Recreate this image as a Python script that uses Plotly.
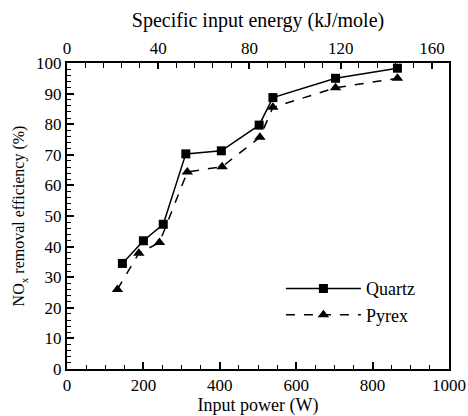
import plotly.graph_objects as go

quartz_power = [145, 200, 252, 311, 404, 503, 539, 703, 865]
quartz_eff = [34.5, 41.9, 47.3, 70.3, 71.3, 79.7, 88.7, 95.0, 98.3]
pyrex_power = [132, 188, 242, 315, 406, 505, 539, 703, 865]
pyrex_eff = [26.0, 37.8, 41.3, 64.4, 66.1, 75.7, 85.5, 91.9, 95.0]

FONT = "Liberation Serif"

def f(size):
    return dict(family=FONT, size=size, color="black")

fig = go.Figure()
fig.add_trace(go.Scatter(
    x=quartz_power, y=quartz_eff, name="Quartz", mode="lines+markers",
    line=dict(color="black", width=1.5),
    marker=dict(symbol="square", size=9, color="black"),
    cliponaxis=False))
fig.add_trace(go.Scatter(
    x=pyrex_power, y=pyrex_eff, name="Pyrex", mode="lines+markers",
    line=dict(color="black", width=1.5, dash="dash"),
    marker=dict(symbol="triangle-up", size=10, color="black"),
    cliponaxis=False))
fig.add_trace(go.Scatter(x=[0, 167.5], y=[None, None], xaxis="x2",
                         showlegend=False, hoverinfo="skip", mode="markers"))

fig.update_layout(
    width=468, height=416,
    margin=dict(l=67, r=19, t=63, b=47, autoexpand=False),
    paper_bgcolor="white", plot_bgcolor="white",
    showlegend=True,
    legend=dict(x=0.56, y=0.22, xanchor="left", yanchor="middle",
                bgcolor="rgba(0,0,0,0)", itemwidth=75,
                font=f(18), tracegroupgap=0),
    xaxis=dict(range=[0, 1000], dtick=200, tick0=0,
               ticks="inside", ticklen=7,
               tickwidth=1.5, tickcolor="black", showline=True, linecolor="black",
               linewidth=2, mirror=True, showgrid=False, zeroline=False,
               tickfont=f(17), automargin=False,
               minor=dict(dtick=50, ticks="inside", ticklen=4, tickcolor="black", tickwidth=1.2),
               title=dict(text="Input power (W)", font=f(18), standoff=3)),
    xaxis2=dict(range=[0, 167.5], overlaying="x", side="top", dtick=40, tick0=0,
                ticks="inside", ticklen=6, tickwidth=1.5, tickcolor="black",
                showline=True, linecolor="black", linewidth=2, showgrid=False,
                zeroline=False, tickfont=f(17), automargin=False,
                minor=dict(dtick=8, ticks="inside", ticklen=5, tickcolor="black", tickwidth=1.2),
                title=dict(text="Specific input energy (kJ/mole)", font=f(20), standoff=6)),
    yaxis=dict(range=[0, 100], dtick=10, tick0=0,
               ticks="inside", ticklen=7,
               tickwidth=1.5, tickcolor="black", showline=True, linecolor="black",
               linewidth=2, mirror=True, showgrid=False, zeroline=False,
               tickfont=f(17), automargin=False,
               minor=dict(dtick=2, ticks="inside", ticklen=4, tickcolor="black", tickwidth=1.2),
               title=dict(text="NO<sub>x</sub> removal efficiency (%)", font=f(16), standoff=7)),
)

fig.write_html("out.html")
